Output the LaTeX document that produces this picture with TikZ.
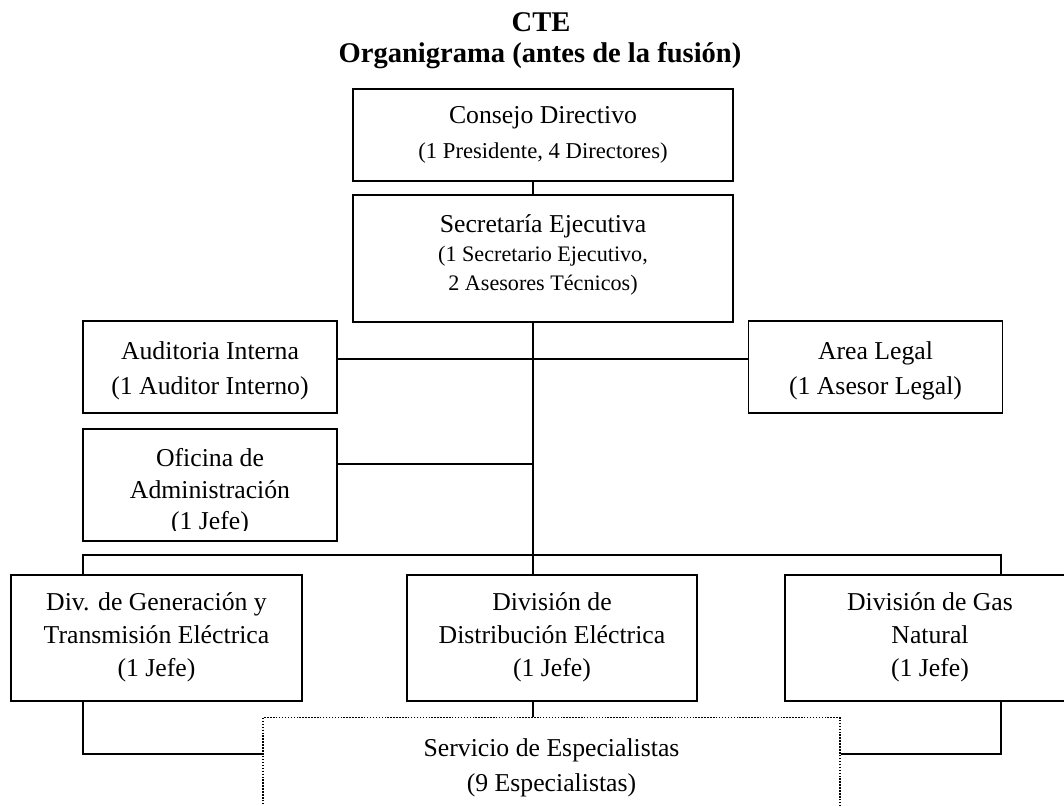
\documentclass[tikz,border=0pt]{standalone}
\usepackage{fontspec}
\setmainfont{Liberation Serif}
\newcommand{\fL}{\fontsize{19.3pt}{19.3pt}\selectfont}
\newcommand{\fS}{\fontsize{17pt}{17pt}\selectfont}
\newcommand{\fT}{\fontsize{16.6pt}{16.6pt}\selectfont}
\newcommand{\hstrut}[1]{\rule{0pt}{#1}}
\newcommand{\dstrut}[1]{\rule[-#1]{0pt}{#1}}
\begin{document}
\begin{tikzpicture}[x=0.75pt,y=-0.75pt,
  orgbox/.style={draw=black,line width=1pt,inner sep=0pt,align=center,rectangle},
  conn/.style={draw=black,line width=1pt},
  dotbox/.style={draw=black,line width=1pt,dash pattern=on 1.1pt off 1.1pt,inner sep=0pt,align=center,rectangle},
  titletext/.style={anchor=base,inner sep=0pt,font=\fontsize{21.4pt}{21.4pt}\bfseries\selectfont}
]
\clip (0,0) rectangle (1064,806);

% title
\node[titletext] (ttlA) at (541,32) {CTE};
\node[titletext] (ttlB) at (540,63) {Organigrama (antes de la fusión)};

% boxes
\node[orgbox,minimum width=285pt,minimum height=69pt,font=\fontsize{17pt}{26.25pt}\selectfont] (cons) at (543,135)
  {\hstrut{13.5pt}{\fL Consejo Directivo}\\{\fS (1 Presidente, 4 Directores)}\dstrut{4.8pt}};
\node[orgbox,minimum width=285pt,minimum height=95.25pt,font=\fontsize{17pt}{21.75pt}\selectfont] (sec) at (543,258.5)
  {\hstrut{13.5pt}{\fL Secretaría Ejecutiva}\\{\fT (1 Secretario Ejecutivo,}\\{\fT 2 Asesores Técnicos)}\dstrut{8.7pt}};
\node[orgbox,minimum width=190.5pt,minimum height=69pt,font=\fontsize{19.3pt}{26.8pt}\selectfont] (aud) at (210,367)
  {\hstrut{19pt}Auditoria Interna\\(1 Auditor Interno)\dstrut{3.75pt}};
\node[orgbox,minimum width=190.5pt,minimum height=69pt,font=\fontsize{19.3pt}{26.8pt}\selectfont] (leg) at (875.5,367)
  {\hstrut{19pt}Area Legal\\(1 Asesor Legal)\dstrut{3.75pt}};
\begin{scope}
  \clip (0,0) rectangle (1064,530) (0,530) rectangle (85,560) (335,530) rectangle (1064,560) (0,539.5) rectangle (1064,560);
  \node[orgbox,minimum width=190.5pt,minimum height=84pt,font=\fontsize{19.3pt}{23.7pt}\selectfont] (ofi) at (210,485)
    {\hstrut{23.7pt}Oficina de\\Administración\\(1 Jefe)\dstrut{3.75pt}};
\end{scope}
\node[orgbox,minimum width=218.25pt,minimum height=94.5pt,font=\fontsize{19.3pt}{24.9pt}\selectfont] (gen) at (156.5,638)
  {\hstrut{13.5pt}Div. de Generación y\\Transmisión Eléctrica\\(1 Jefe)\dstrut{5.6pt}};
\node[orgbox,minimum width=217.5pt,minimum height=94.5pt,font=\fontsize{19.3pt}{24.9pt}\selectfont] (dis) at (552,638)
  {\hstrut{13.5pt}División de\\Distribución Eléctrica\\(1 Jefe)\dstrut{5.6pt}};
\node[orgbox,minimum width=217.5pt,minimum height=94.5pt,font=\fontsize{19.3pt}{24.9pt}\selectfont] (gas) at (930,638)
  {\hstrut{13.5pt}División de Gas\\Natural\\(1 Jefe)\dstrut{5.6pt}};
\node[dotbox,anchor=north,minimum width=432.75pt,minimum height=84.75pt,font=\fontsize{19.3pt}{26.25pt}\selectfont] (ser) at (551.5,717)
  {\hstrut{13.5pt}Servicio de Especialistas\\(9 Especialistas)\dstrut{13.5pt}};

% guide coordinates
\coordinate (trunk) at (533,0);
\coordinate (genx) at (83,0);
\coordinate (gasx) at (1001,0);
\coordinate (audy) at (0,359);
\coordinate (ofiy) at (0,464);
\coordinate (busy) at (0,555);
\coordinate (sery) at (0,754);

% connectors
\draw[conn] (cons.south -| trunk) -- (sec.north -| trunk);
\draw[conn] (sec.south -| trunk) -- (dis.north -| trunk);
\draw[conn] (aud.east |- audy) -- (leg.west |- audy);
\draw[conn] (ofi.east |- ofiy) -- (trunk |- ofiy);
\draw[conn] (gen.north -| genx) -- (genx |- busy) -- (gasx |- busy) -- (gas.north -| gasx);
\draw[conn] (gen.south -| genx) |- (ser.west |- sery);
\draw[conn] (gas.south -| gasx) |- (ser.east |- sery);
\draw[conn] (dis.south -| trunk) -- (ser.north -| trunk);
\end{tikzpicture}
\end{document}
